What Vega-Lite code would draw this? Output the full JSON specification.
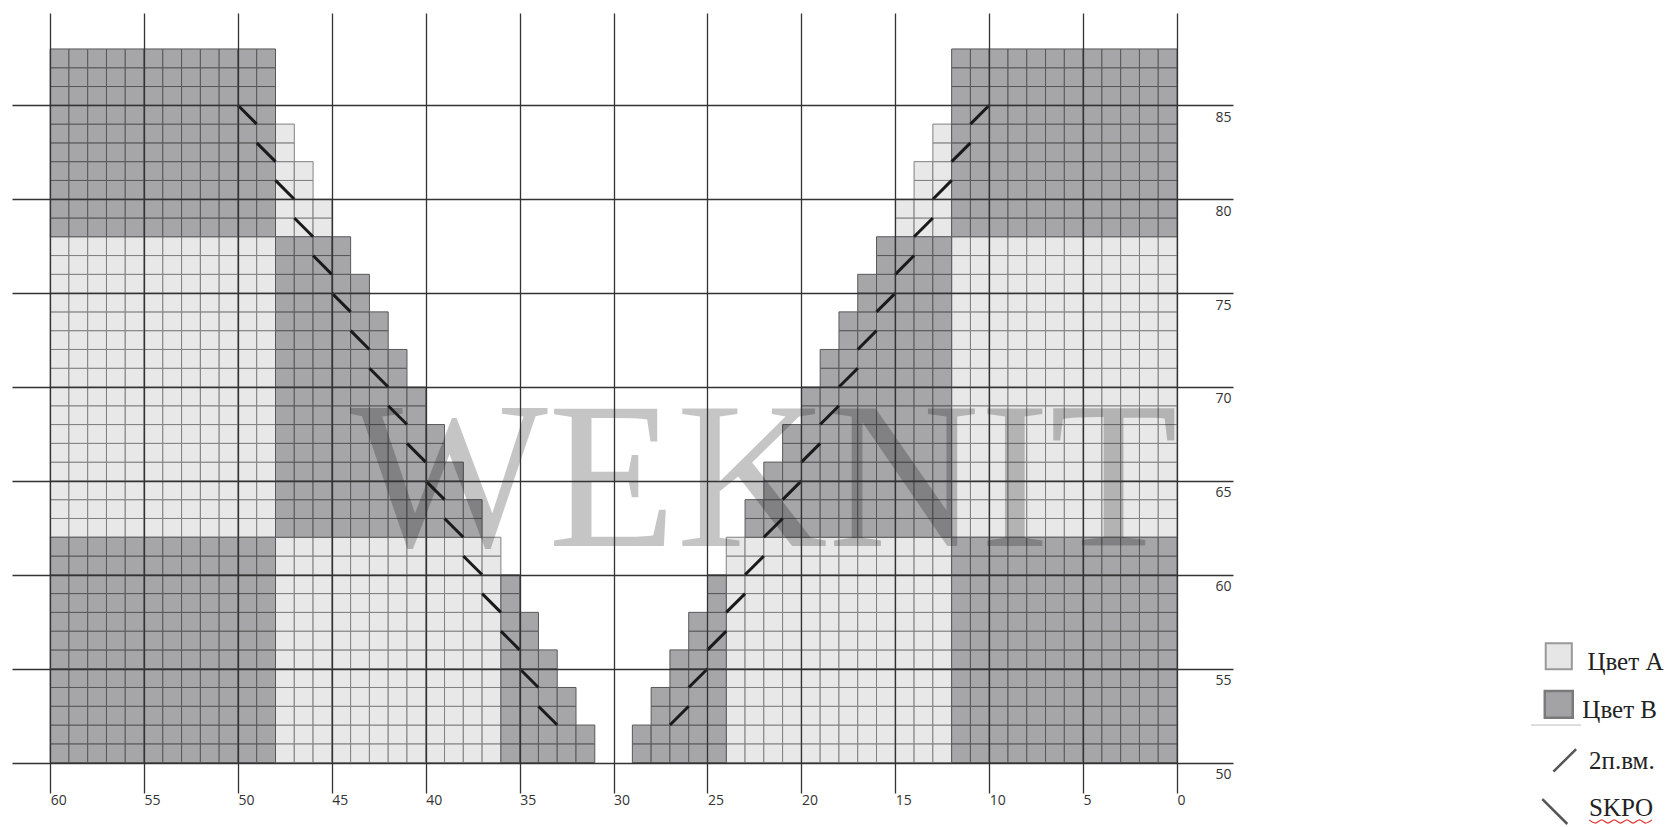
{"$schema":"https://vega.github.io/schema/vega-lite/v6.json","width":1221,"height":780,"autosize":"none","padding":{"left":12,"top":13,"right":437,"bottom":34},"background":"white","config":{"view":{"stroke":null}},
"datasets":{"cellsA":[
{"x":48,"y":51},{"x":47,"y":51},{"x":46,"y":51},{"x":45,"y":51},{"x":44,"y":51},{"x":43,"y":51},{"x":42,"y":51},{"x":41,"y":51},{"x":40,"y":51},{"x":39,"y":51},{"x":38,"y":51},{"x":37,"y":51},{"x":24,"y":51},{"x":23,"y":51},{"x":22,"y":51},{"x":21,"y":51},{"x":20,"y":51},{"x":19,"y":51},{"x":18,"y":51},{"x":17,"y":51},{"x":16,"y":51},{"x":15,"y":51},{"x":14,"y":51},{"x":13,"y":51},
{"x":48,"y":52},{"x":47,"y":52},{"x":46,"y":52},{"x":45,"y":52},{"x":44,"y":52},{"x":43,"y":52},{"x":42,"y":52},{"x":41,"y":52},{"x":40,"y":52},{"x":39,"y":52},{"x":38,"y":52},{"x":37,"y":52},{"x":24,"y":52},{"x":23,"y":52},{"x":22,"y":52},{"x":21,"y":52},{"x":20,"y":52},{"x":19,"y":52},{"x":18,"y":52},{"x":17,"y":52},{"x":16,"y":52},{"x":15,"y":52},{"x":14,"y":52},{"x":13,"y":52},
{"x":48,"y":53},{"x":47,"y":53},{"x":46,"y":53},{"x":45,"y":53},{"x":44,"y":53},{"x":43,"y":53},{"x":42,"y":53},{"x":41,"y":53},{"x":40,"y":53},{"x":39,"y":53},{"x":38,"y":53},{"x":37,"y":53},{"x":24,"y":53},{"x":23,"y":53},{"x":22,"y":53},{"x":21,"y":53},{"x":20,"y":53},{"x":19,"y":53},{"x":18,"y":53},{"x":17,"y":53},{"x":16,"y":53},{"x":15,"y":53},{"x":14,"y":53},{"x":13,"y":53},
{"x":48,"y":54},{"x":47,"y":54},{"x":46,"y":54},{"x":45,"y":54},{"x":44,"y":54},{"x":43,"y":54},{"x":42,"y":54},{"x":41,"y":54},{"x":40,"y":54},{"x":39,"y":54},{"x":38,"y":54},{"x":37,"y":54},{"x":24,"y":54},{"x":23,"y":54},{"x":22,"y":54},{"x":21,"y":54},{"x":20,"y":54},{"x":19,"y":54},{"x":18,"y":54},{"x":17,"y":54},{"x":16,"y":54},{"x":15,"y":54},{"x":14,"y":54},{"x":13,"y":54},
{"x":48,"y":55},{"x":47,"y":55},{"x":46,"y":55},{"x":45,"y":55},{"x":44,"y":55},{"x":43,"y":55},{"x":42,"y":55},{"x":41,"y":55},{"x":40,"y":55},{"x":39,"y":55},{"x":38,"y":55},{"x":37,"y":55},{"x":24,"y":55},{"x":23,"y":55},{"x":22,"y":55},{"x":21,"y":55},{"x":20,"y":55},{"x":19,"y":55},{"x":18,"y":55},{"x":17,"y":55},{"x":16,"y":55},{"x":15,"y":55},{"x":14,"y":55},{"x":13,"y":55},
{"x":48,"y":56},{"x":47,"y":56},{"x":46,"y":56},{"x":45,"y":56},{"x":44,"y":56},{"x":43,"y":56},{"x":42,"y":56},{"x":41,"y":56},{"x":40,"y":56},{"x":39,"y":56},{"x":38,"y":56},{"x":37,"y":56},{"x":24,"y":56},{"x":23,"y":56},{"x":22,"y":56},{"x":21,"y":56},{"x":20,"y":56},{"x":19,"y":56},{"x":18,"y":56},{"x":17,"y":56},{"x":16,"y":56},{"x":15,"y":56},{"x":14,"y":56},{"x":13,"y":56},
{"x":48,"y":57},{"x":47,"y":57},{"x":46,"y":57},{"x":45,"y":57},{"x":44,"y":57},{"x":43,"y":57},{"x":42,"y":57},{"x":41,"y":57},{"x":40,"y":57},{"x":39,"y":57},{"x":38,"y":57},{"x":37,"y":57},{"x":24,"y":57},{"x":23,"y":57},{"x":22,"y":57},{"x":21,"y":57},{"x":20,"y":57},{"x":19,"y":57},{"x":18,"y":57},{"x":17,"y":57},{"x":16,"y":57},{"x":15,"y":57},{"x":14,"y":57},{"x":13,"y":57},
{"x":48,"y":58},{"x":47,"y":58},{"x":46,"y":58},{"x":45,"y":58},{"x":44,"y":58},{"x":43,"y":58},{"x":42,"y":58},{"x":41,"y":58},{"x":40,"y":58},{"x":39,"y":58},{"x":38,"y":58},{"x":37,"y":58},{"x":24,"y":58},{"x":23,"y":58},{"x":22,"y":58},{"x":21,"y":58},{"x":20,"y":58},{"x":19,"y":58},{"x":18,"y":58},{"x":17,"y":58},{"x":16,"y":58},{"x":15,"y":58},{"x":14,"y":58},{"x":13,"y":58},
{"x":48,"y":59},{"x":47,"y":59},{"x":46,"y":59},{"x":45,"y":59},{"x":44,"y":59},{"x":43,"y":59},{"x":42,"y":59},{"x":41,"y":59},{"x":40,"y":59},{"x":39,"y":59},{"x":38,"y":59},{"x":37,"y":59},{"x":24,"y":59},{"x":23,"y":59},{"x":22,"y":59},{"x":21,"y":59},{"x":20,"y":59},{"x":19,"y":59},{"x":18,"y":59},{"x":17,"y":59},{"x":16,"y":59},{"x":15,"y":59},{"x":14,"y":59},{"x":13,"y":59},
{"x":48,"y":60},{"x":47,"y":60},{"x":46,"y":60},{"x":45,"y":60},{"x":44,"y":60},{"x":43,"y":60},{"x":42,"y":60},{"x":41,"y":60},{"x":40,"y":60},{"x":39,"y":60},{"x":38,"y":60},{"x":37,"y":60},{"x":24,"y":60},{"x":23,"y":60},{"x":22,"y":60},{"x":21,"y":60},{"x":20,"y":60},{"x":19,"y":60},{"x":18,"y":60},{"x":17,"y":60},{"x":16,"y":60},{"x":15,"y":60},{"x":14,"y":60},{"x":13,"y":60},
{"x":48,"y":61},{"x":47,"y":61},{"x":46,"y":61},{"x":45,"y":61},{"x":44,"y":61},{"x":43,"y":61},{"x":42,"y":61},{"x":41,"y":61},{"x":40,"y":61},{"x":39,"y":61},{"x":38,"y":61},{"x":37,"y":61},{"x":24,"y":61},{"x":23,"y":61},{"x":22,"y":61},{"x":21,"y":61},{"x":20,"y":61},{"x":19,"y":61},{"x":18,"y":61},{"x":17,"y":61},{"x":16,"y":61},{"x":15,"y":61},{"x":14,"y":61},{"x":13,"y":61},
{"x":48,"y":62},{"x":47,"y":62},{"x":46,"y":62},{"x":45,"y":62},{"x":44,"y":62},{"x":43,"y":62},{"x":42,"y":62},{"x":41,"y":62},{"x":40,"y":62},{"x":39,"y":62},{"x":38,"y":62},{"x":37,"y":62},{"x":24,"y":62},{"x":23,"y":62},{"x":22,"y":62},{"x":21,"y":62},{"x":20,"y":62},{"x":19,"y":62},{"x":18,"y":62},{"x":17,"y":62},{"x":16,"y":62},{"x":15,"y":62},{"x":14,"y":62},{"x":13,"y":62},
{"x":60,"y":63},{"x":59,"y":63},{"x":58,"y":63},{"x":57,"y":63},{"x":56,"y":63},{"x":55,"y":63},{"x":54,"y":63},{"x":53,"y":63},{"x":52,"y":63},{"x":51,"y":63},{"x":50,"y":63},{"x":49,"y":63},{"x":12,"y":63},{"x":11,"y":63},{"x":10,"y":63},{"x":9,"y":63},{"x":8,"y":63},{"x":7,"y":63},{"x":6,"y":63},{"x":5,"y":63},{"x":4,"y":63},{"x":3,"y":63},{"x":2,"y":63},{"x":1,"y":63},
{"x":60,"y":64},{"x":59,"y":64},{"x":58,"y":64},{"x":57,"y":64},{"x":56,"y":64},{"x":55,"y":64},{"x":54,"y":64},{"x":53,"y":64},{"x":52,"y":64},{"x":51,"y":64},{"x":50,"y":64},{"x":49,"y":64},{"x":12,"y":64},{"x":11,"y":64},{"x":10,"y":64},{"x":9,"y":64},{"x":8,"y":64},{"x":7,"y":64},{"x":6,"y":64},{"x":5,"y":64},{"x":4,"y":64},{"x":3,"y":64},{"x":2,"y":64},{"x":1,"y":64},
{"x":60,"y":65},{"x":59,"y":65},{"x":58,"y":65},{"x":57,"y":65},{"x":56,"y":65},{"x":55,"y":65},{"x":54,"y":65},{"x":53,"y":65},{"x":52,"y":65},{"x":51,"y":65},{"x":50,"y":65},{"x":49,"y":65},{"x":12,"y":65},{"x":11,"y":65},{"x":10,"y":65},{"x":9,"y":65},{"x":8,"y":65},{"x":7,"y":65},{"x":6,"y":65},{"x":5,"y":65},{"x":4,"y":65},{"x":3,"y":65},{"x":2,"y":65},{"x":1,"y":65},
{"x":60,"y":66},{"x":59,"y":66},{"x":58,"y":66},{"x":57,"y":66},{"x":56,"y":66},{"x":55,"y":66},{"x":54,"y":66},{"x":53,"y":66},{"x":52,"y":66},{"x":51,"y":66},{"x":50,"y":66},{"x":49,"y":66},{"x":12,"y":66},{"x":11,"y":66},{"x":10,"y":66},{"x":9,"y":66},{"x":8,"y":66},{"x":7,"y":66},{"x":6,"y":66},{"x":5,"y":66},{"x":4,"y":66},{"x":3,"y":66},{"x":2,"y":66},{"x":1,"y":66},
{"x":60,"y":67},{"x":59,"y":67},{"x":58,"y":67},{"x":57,"y":67},{"x":56,"y":67},{"x":55,"y":67},{"x":54,"y":67},{"x":53,"y":67},{"x":52,"y":67},{"x":51,"y":67},{"x":50,"y":67},{"x":49,"y":67},{"x":12,"y":67},{"x":11,"y":67},{"x":10,"y":67},{"x":9,"y":67},{"x":8,"y":67},{"x":7,"y":67},{"x":6,"y":67},{"x":5,"y":67},{"x":4,"y":67},{"x":3,"y":67},{"x":2,"y":67},{"x":1,"y":67},
{"x":60,"y":68},{"x":59,"y":68},{"x":58,"y":68},{"x":57,"y":68},{"x":56,"y":68},{"x":55,"y":68},{"x":54,"y":68},{"x":53,"y":68},{"x":52,"y":68},{"x":51,"y":68},{"x":50,"y":68},{"x":49,"y":68},{"x":12,"y":68},{"x":11,"y":68},{"x":10,"y":68},{"x":9,"y":68},{"x":8,"y":68},{"x":7,"y":68},{"x":6,"y":68},{"x":5,"y":68},{"x":4,"y":68},{"x":3,"y":68},{"x":2,"y":68},{"x":1,"y":68},
{"x":60,"y":69},{"x":59,"y":69},{"x":58,"y":69},{"x":57,"y":69},{"x":56,"y":69},{"x":55,"y":69},{"x":54,"y":69},{"x":53,"y":69},{"x":52,"y":69},{"x":51,"y":69},{"x":50,"y":69},{"x":49,"y":69},{"x":12,"y":69},{"x":11,"y":69},{"x":10,"y":69},{"x":9,"y":69},{"x":8,"y":69},{"x":7,"y":69},{"x":6,"y":69},{"x":5,"y":69},{"x":4,"y":69},{"x":3,"y":69},{"x":2,"y":69},{"x":1,"y":69},
{"x":60,"y":70},{"x":59,"y":70},{"x":58,"y":70},{"x":57,"y":70},{"x":56,"y":70},{"x":55,"y":70},{"x":54,"y":70},{"x":53,"y":70},{"x":52,"y":70},{"x":51,"y":70},{"x":50,"y":70},{"x":49,"y":70},{"x":12,"y":70},{"x":11,"y":70},{"x":10,"y":70},{"x":9,"y":70},{"x":8,"y":70},{"x":7,"y":70},{"x":6,"y":70},{"x":5,"y":70},{"x":4,"y":70},{"x":3,"y":70},{"x":2,"y":70},{"x":1,"y":70},
{"x":60,"y":71},{"x":59,"y":71},{"x":58,"y":71},{"x":57,"y":71},{"x":56,"y":71},{"x":55,"y":71},{"x":54,"y":71},{"x":53,"y":71},{"x":52,"y":71},{"x":51,"y":71},{"x":50,"y":71},{"x":49,"y":71},{"x":12,"y":71},{"x":11,"y":71},{"x":10,"y":71},{"x":9,"y":71},{"x":8,"y":71},{"x":7,"y":71},{"x":6,"y":71},{"x":5,"y":71},{"x":4,"y":71},{"x":3,"y":71},{"x":2,"y":71},{"x":1,"y":71},
{"x":60,"y":72},{"x":59,"y":72},{"x":58,"y":72},{"x":57,"y":72},{"x":56,"y":72},{"x":55,"y":72},{"x":54,"y":72},{"x":53,"y":72},{"x":52,"y":72},{"x":51,"y":72},{"x":50,"y":72},{"x":49,"y":72},{"x":12,"y":72},{"x":11,"y":72},{"x":10,"y":72},{"x":9,"y":72},{"x":8,"y":72},{"x":7,"y":72},{"x":6,"y":72},{"x":5,"y":72},{"x":4,"y":72},{"x":3,"y":72},{"x":2,"y":72},{"x":1,"y":72},
{"x":60,"y":73},{"x":59,"y":73},{"x":58,"y":73},{"x":57,"y":73},{"x":56,"y":73},{"x":55,"y":73},{"x":54,"y":73},{"x":53,"y":73},{"x":52,"y":73},{"x":51,"y":73},{"x":50,"y":73},{"x":49,"y":73},{"x":12,"y":73},{"x":11,"y":73},{"x":10,"y":73},{"x":9,"y":73},{"x":8,"y":73},{"x":7,"y":73},{"x":6,"y":73},{"x":5,"y":73},{"x":4,"y":73},{"x":3,"y":73},{"x":2,"y":73},{"x":1,"y":73},
{"x":60,"y":74},{"x":59,"y":74},{"x":58,"y":74},{"x":57,"y":74},{"x":56,"y":74},{"x":55,"y":74},{"x":54,"y":74},{"x":53,"y":74},{"x":52,"y":74},{"x":51,"y":74},{"x":50,"y":74},{"x":49,"y":74},{"x":12,"y":74},{"x":11,"y":74},{"x":10,"y":74},{"x":9,"y":74},{"x":8,"y":74},{"x":7,"y":74},{"x":6,"y":74},{"x":5,"y":74},{"x":4,"y":74},{"x":3,"y":74},{"x":2,"y":74},{"x":1,"y":74},
{"x":60,"y":75},{"x":59,"y":75},{"x":58,"y":75},{"x":57,"y":75},{"x":56,"y":75},{"x":55,"y":75},{"x":54,"y":75},{"x":53,"y":75},{"x":52,"y":75},{"x":51,"y":75},{"x":50,"y":75},{"x":49,"y":75},{"x":12,"y":75},{"x":11,"y":75},{"x":10,"y":75},{"x":9,"y":75},{"x":8,"y":75},{"x":7,"y":75},{"x":6,"y":75},{"x":5,"y":75},{"x":4,"y":75},{"x":3,"y":75},{"x":2,"y":75},{"x":1,"y":75},
{"x":60,"y":76},{"x":59,"y":76},{"x":58,"y":76},{"x":57,"y":76},{"x":56,"y":76},{"x":55,"y":76},{"x":54,"y":76},{"x":53,"y":76},{"x":52,"y":76},{"x":51,"y":76},{"x":50,"y":76},{"x":49,"y":76},{"x":12,"y":76},{"x":11,"y":76},{"x":10,"y":76},{"x":9,"y":76},{"x":8,"y":76},{"x":7,"y":76},{"x":6,"y":76},{"x":5,"y":76},{"x":4,"y":76},{"x":3,"y":76},{"x":2,"y":76},{"x":1,"y":76},
{"x":60,"y":77},{"x":59,"y":77},{"x":58,"y":77},{"x":57,"y":77},{"x":56,"y":77},{"x":55,"y":77},{"x":54,"y":77},{"x":53,"y":77},{"x":52,"y":77},{"x":51,"y":77},{"x":50,"y":77},{"x":49,"y":77},{"x":12,"y":77},{"x":11,"y":77},{"x":10,"y":77},{"x":9,"y":77},{"x":8,"y":77},{"x":7,"y":77},{"x":6,"y":77},{"x":5,"y":77},{"x":4,"y":77},{"x":3,"y":77},{"x":2,"y":77},{"x":1,"y":77},
{"x":60,"y":78},{"x":59,"y":78},{"x":58,"y":78},{"x":57,"y":78},{"x":56,"y":78},{"x":55,"y":78},{"x":54,"y":78},{"x":53,"y":78},{"x":52,"y":78},{"x":51,"y":78},{"x":50,"y":78},{"x":49,"y":78},{"x":12,"y":78},{"x":11,"y":78},{"x":10,"y":78},{"x":9,"y":78},{"x":8,"y":78},{"x":7,"y":78},{"x":6,"y":78},{"x":5,"y":78},{"x":4,"y":78},{"x":3,"y":78},{"x":2,"y":78},{"x":1,"y":78},
{"x":48,"y":79},{"x":47,"y":79},{"x":46,"y":79},{"x":15,"y":79},{"x":14,"y":79},{"x":13,"y":79},
{"x":48,"y":80},{"x":47,"y":80},{"x":46,"y":80},{"x":15,"y":80},{"x":14,"y":80},{"x":13,"y":80},
{"x":48,"y":81},{"x":47,"y":81},{"x":14,"y":81},{"x":13,"y":81},
{"x":48,"y":82},{"x":47,"y":82},{"x":14,"y":82},{"x":13,"y":82},
{"x":48,"y":83},{"x":13,"y":83},
{"x":48,"y":84},{"x":13,"y":84}
],"cellsB":[
{"x":60,"y":51},{"x":59,"y":51},{"x":58,"y":51},{"x":57,"y":51},{"x":56,"y":51},{"x":55,"y":51},{"x":54,"y":51},{"x":53,"y":51},{"x":52,"y":51},{"x":51,"y":51},{"x":50,"y":51},{"x":49,"y":51},{"x":36,"y":51},{"x":35,"y":51},{"x":34,"y":51},{"x":33,"y":51},{"x":32,"y":51},{"x":29,"y":51},{"x":28,"y":51},{"x":27,"y":51},{"x":26,"y":51},{"x":25,"y":51},{"x":12,"y":51},{"x":11,"y":51},{"x":10,"y":51},{"x":9,"y":51},{"x":8,"y":51},{"x":7,"y":51},{"x":6,"y":51},{"x":5,"y":51},{"x":4,"y":51},{"x":3,"y":51},{"x":2,"y":51},{"x":1,"y":51},
{"x":60,"y":52},{"x":59,"y":52},{"x":58,"y":52},{"x":57,"y":52},{"x":56,"y":52},{"x":55,"y":52},{"x":54,"y":52},{"x":53,"y":52},{"x":52,"y":52},{"x":51,"y":52},{"x":50,"y":52},{"x":49,"y":52},{"x":36,"y":52},{"x":35,"y":52},{"x":34,"y":52},{"x":33,"y":52},{"x":32,"y":52},{"x":29,"y":52},{"x":28,"y":52},{"x":27,"y":52},{"x":26,"y":52},{"x":25,"y":52},{"x":12,"y":52},{"x":11,"y":52},{"x":10,"y":52},{"x":9,"y":52},{"x":8,"y":52},{"x":7,"y":52},{"x":6,"y":52},{"x":5,"y":52},{"x":4,"y":52},{"x":3,"y":52},{"x":2,"y":52},{"x":1,"y":52},
{"x":60,"y":53},{"x":59,"y":53},{"x":58,"y":53},{"x":57,"y":53},{"x":56,"y":53},{"x":55,"y":53},{"x":54,"y":53},{"x":53,"y":53},{"x":52,"y":53},{"x":51,"y":53},{"x":50,"y":53},{"x":49,"y":53},{"x":36,"y":53},{"x":35,"y":53},{"x":34,"y":53},{"x":33,"y":53},{"x":28,"y":53},{"x":27,"y":53},{"x":26,"y":53},{"x":25,"y":53},{"x":12,"y":53},{"x":11,"y":53},{"x":10,"y":53},{"x":9,"y":53},{"x":8,"y":53},{"x":7,"y":53},{"x":6,"y":53},{"x":5,"y":53},{"x":4,"y":53},{"x":3,"y":53},{"x":2,"y":53},{"x":1,"y":53},
{"x":60,"y":54},{"x":59,"y":54},{"x":58,"y":54},{"x":57,"y":54},{"x":56,"y":54},{"x":55,"y":54},{"x":54,"y":54},{"x":53,"y":54},{"x":52,"y":54},{"x":51,"y":54},{"x":50,"y":54},{"x":49,"y":54},{"x":36,"y":54},{"x":35,"y":54},{"x":34,"y":54},{"x":33,"y":54},{"x":28,"y":54},{"x":27,"y":54},{"x":26,"y":54},{"x":25,"y":54},{"x":12,"y":54},{"x":11,"y":54},{"x":10,"y":54},{"x":9,"y":54},{"x":8,"y":54},{"x":7,"y":54},{"x":6,"y":54},{"x":5,"y":54},{"x":4,"y":54},{"x":3,"y":54},{"x":2,"y":54},{"x":1,"y":54},
{"x":60,"y":55},{"x":59,"y":55},{"x":58,"y":55},{"x":57,"y":55},{"x":56,"y":55},{"x":55,"y":55},{"x":54,"y":55},{"x":53,"y":55},{"x":52,"y":55},{"x":51,"y":55},{"x":50,"y":55},{"x":49,"y":55},{"x":36,"y":55},{"x":35,"y":55},{"x":34,"y":55},{"x":27,"y":55},{"x":26,"y":55},{"x":25,"y":55},{"x":12,"y":55},{"x":11,"y":55},{"x":10,"y":55},{"x":9,"y":55},{"x":8,"y":55},{"x":7,"y":55},{"x":6,"y":55},{"x":5,"y":55},{"x":4,"y":55},{"x":3,"y":55},{"x":2,"y":55},{"x":1,"y":55},
{"x":60,"y":56},{"x":59,"y":56},{"x":58,"y":56},{"x":57,"y":56},{"x":56,"y":56},{"x":55,"y":56},{"x":54,"y":56},{"x":53,"y":56},{"x":52,"y":56},{"x":51,"y":56},{"x":50,"y":56},{"x":49,"y":56},{"x":36,"y":56},{"x":35,"y":56},{"x":34,"y":56},{"x":27,"y":56},{"x":26,"y":56},{"x":25,"y":56},{"x":12,"y":56},{"x":11,"y":56},{"x":10,"y":56},{"x":9,"y":56},{"x":8,"y":56},{"x":7,"y":56},{"x":6,"y":56},{"x":5,"y":56},{"x":4,"y":56},{"x":3,"y":56},{"x":2,"y":56},{"x":1,"y":56},
{"x":60,"y":57},{"x":59,"y":57},{"x":58,"y":57},{"x":57,"y":57},{"x":56,"y":57},{"x":55,"y":57},{"x":54,"y":57},{"x":53,"y":57},{"x":52,"y":57},{"x":51,"y":57},{"x":50,"y":57},{"x":49,"y":57},{"x":36,"y":57},{"x":35,"y":57},{"x":26,"y":57},{"x":25,"y":57},{"x":12,"y":57},{"x":11,"y":57},{"x":10,"y":57},{"x":9,"y":57},{"x":8,"y":57},{"x":7,"y":57},{"x":6,"y":57},{"x":5,"y":57},{"x":4,"y":57},{"x":3,"y":57},{"x":2,"y":57},{"x":1,"y":57},
{"x":60,"y":58},{"x":59,"y":58},{"x":58,"y":58},{"x":57,"y":58},{"x":56,"y":58},{"x":55,"y":58},{"x":54,"y":58},{"x":53,"y":58},{"x":52,"y":58},{"x":51,"y":58},{"x":50,"y":58},{"x":49,"y":58},{"x":36,"y":58},{"x":35,"y":58},{"x":26,"y":58},{"x":25,"y":58},{"x":12,"y":58},{"x":11,"y":58},{"x":10,"y":58},{"x":9,"y":58},{"x":8,"y":58},{"x":7,"y":58},{"x":6,"y":58},{"x":5,"y":58},{"x":4,"y":58},{"x":3,"y":58},{"x":2,"y":58},{"x":1,"y":58},
{"x":60,"y":59},{"x":59,"y":59},{"x":58,"y":59},{"x":57,"y":59},{"x":56,"y":59},{"x":55,"y":59},{"x":54,"y":59},{"x":53,"y":59},{"x":52,"y":59},{"x":51,"y":59},{"x":50,"y":59},{"x":49,"y":59},{"x":36,"y":59},{"x":25,"y":59},{"x":12,"y":59},{"x":11,"y":59},{"x":10,"y":59},{"x":9,"y":59},{"x":8,"y":59},{"x":7,"y":59},{"x":6,"y":59},{"x":5,"y":59},{"x":4,"y":59},{"x":3,"y":59},{"x":2,"y":59},{"x":1,"y":59},
{"x":60,"y":60},{"x":59,"y":60},{"x":58,"y":60},{"x":57,"y":60},{"x":56,"y":60},{"x":55,"y":60},{"x":54,"y":60},{"x":53,"y":60},{"x":52,"y":60},{"x":51,"y":60},{"x":50,"y":60},{"x":49,"y":60},{"x":36,"y":60},{"x":25,"y":60},{"x":12,"y":60},{"x":11,"y":60},{"x":10,"y":60},{"x":9,"y":60},{"x":8,"y":60},{"x":7,"y":60},{"x":6,"y":60},{"x":5,"y":60},{"x":4,"y":60},{"x":3,"y":60},{"x":2,"y":60},{"x":1,"y":60},
{"x":60,"y":61},{"x":59,"y":61},{"x":58,"y":61},{"x":57,"y":61},{"x":56,"y":61},{"x":55,"y":61},{"x":54,"y":61},{"x":53,"y":61},{"x":52,"y":61},{"x":51,"y":61},{"x":50,"y":61},{"x":49,"y":61},{"x":12,"y":61},{"x":11,"y":61},{"x":10,"y":61},{"x":9,"y":61},{"x":8,"y":61},{"x":7,"y":61},{"x":6,"y":61},{"x":5,"y":61},{"x":4,"y":61},{"x":3,"y":61},{"x":2,"y":61},{"x":1,"y":61},
{"x":60,"y":62},{"x":59,"y":62},{"x":58,"y":62},{"x":57,"y":62},{"x":56,"y":62},{"x":55,"y":62},{"x":54,"y":62},{"x":53,"y":62},{"x":52,"y":62},{"x":51,"y":62},{"x":50,"y":62},{"x":49,"y":62},{"x":12,"y":62},{"x":11,"y":62},{"x":10,"y":62},{"x":9,"y":62},{"x":8,"y":62},{"x":7,"y":62},{"x":6,"y":62},{"x":5,"y":62},{"x":4,"y":62},{"x":3,"y":62},{"x":2,"y":62},{"x":1,"y":62},
{"x":48,"y":63},{"x":47,"y":63},{"x":46,"y":63},{"x":45,"y":63},{"x":44,"y":63},{"x":43,"y":63},{"x":42,"y":63},{"x":41,"y":63},{"x":40,"y":63},{"x":39,"y":63},{"x":38,"y":63},{"x":23,"y":63},{"x":22,"y":63},{"x":21,"y":63},{"x":20,"y":63},{"x":19,"y":63},{"x":18,"y":63},{"x":17,"y":63},{"x":16,"y":63},{"x":15,"y":63},{"x":14,"y":63},{"x":13,"y":63},
{"x":48,"y":64},{"x":47,"y":64},{"x":46,"y":64},{"x":45,"y":64},{"x":44,"y":64},{"x":43,"y":64},{"x":42,"y":64},{"x":41,"y":64},{"x":40,"y":64},{"x":39,"y":64},{"x":38,"y":64},{"x":23,"y":64},{"x":22,"y":64},{"x":21,"y":64},{"x":20,"y":64},{"x":19,"y":64},{"x":18,"y":64},{"x":17,"y":64},{"x":16,"y":64},{"x":15,"y":64},{"x":14,"y":64},{"x":13,"y":64},
{"x":48,"y":65},{"x":47,"y":65},{"x":46,"y":65},{"x":45,"y":65},{"x":44,"y":65},{"x":43,"y":65},{"x":42,"y":65},{"x":41,"y":65},{"x":40,"y":65},{"x":39,"y":65},{"x":22,"y":65},{"x":21,"y":65},{"x":20,"y":65},{"x":19,"y":65},{"x":18,"y":65},{"x":17,"y":65},{"x":16,"y":65},{"x":15,"y":65},{"x":14,"y":65},{"x":13,"y":65},
{"x":48,"y":66},{"x":47,"y":66},{"x":46,"y":66},{"x":45,"y":66},{"x":44,"y":66},{"x":43,"y":66},{"x":42,"y":66},{"x":41,"y":66},{"x":40,"y":66},{"x":39,"y":66},{"x":22,"y":66},{"x":21,"y":66},{"x":20,"y":66},{"x":19,"y":66},{"x":18,"y":66},{"x":17,"y":66},{"x":16,"y":66},{"x":15,"y":66},{"x":14,"y":66},{"x":13,"y":66},
{"x":48,"y":67},{"x":47,"y":67},{"x":46,"y":67},{"x":45,"y":67},{"x":44,"y":67},{"x":43,"y":67},{"x":42,"y":67},{"x":41,"y":67},{"x":40,"y":67},{"x":21,"y":67},{"x":20,"y":67},{"x":19,"y":67},{"x":18,"y":67},{"x":17,"y":67},{"x":16,"y":67},{"x":15,"y":67},{"x":14,"y":67},{"x":13,"y":67},
{"x":48,"y":68},{"x":47,"y":68},{"x":46,"y":68},{"x":45,"y":68},{"x":44,"y":68},{"x":43,"y":68},{"x":42,"y":68},{"x":41,"y":68},{"x":40,"y":68},{"x":21,"y":68},{"x":20,"y":68},{"x":19,"y":68},{"x":18,"y":68},{"x":17,"y":68},{"x":16,"y":68},{"x":15,"y":68},{"x":14,"y":68},{"x":13,"y":68},
{"x":48,"y":69},{"x":47,"y":69},{"x":46,"y":69},{"x":45,"y":69},{"x":44,"y":69},{"x":43,"y":69},{"x":42,"y":69},{"x":41,"y":69},{"x":20,"y":69},{"x":19,"y":69},{"x":18,"y":69},{"x":17,"y":69},{"x":16,"y":69},{"x":15,"y":69},{"x":14,"y":69},{"x":13,"y":69},
{"x":48,"y":70},{"x":47,"y":70},{"x":46,"y":70},{"x":45,"y":70},{"x":44,"y":70},{"x":43,"y":70},{"x":42,"y":70},{"x":41,"y":70},{"x":20,"y":70},{"x":19,"y":70},{"x":18,"y":70},{"x":17,"y":70},{"x":16,"y":70},{"x":15,"y":70},{"x":14,"y":70},{"x":13,"y":70},
{"x":48,"y":71},{"x":47,"y":71},{"x":46,"y":71},{"x":45,"y":71},{"x":44,"y":71},{"x":43,"y":71},{"x":42,"y":71},{"x":19,"y":71},{"x":18,"y":71},{"x":17,"y":71},{"x":16,"y":71},{"x":15,"y":71},{"x":14,"y":71},{"x":13,"y":71},
{"x":48,"y":72},{"x":47,"y":72},{"x":46,"y":72},{"x":45,"y":72},{"x":44,"y":72},{"x":43,"y":72},{"x":42,"y":72},{"x":19,"y":72},{"x":18,"y":72},{"x":17,"y":72},{"x":16,"y":72},{"x":15,"y":72},{"x":14,"y":72},{"x":13,"y":72},
{"x":48,"y":73},{"x":47,"y":73},{"x":46,"y":73},{"x":45,"y":73},{"x":44,"y":73},{"x":43,"y":73},{"x":18,"y":73},{"x":17,"y":73},{"x":16,"y":73},{"x":15,"y":73},{"x":14,"y":73},{"x":13,"y":73},
{"x":48,"y":74},{"x":47,"y":74},{"x":46,"y":74},{"x":45,"y":74},{"x":44,"y":74},{"x":43,"y":74},{"x":18,"y":74},{"x":17,"y":74},{"x":16,"y":74},{"x":15,"y":74},{"x":14,"y":74},{"x":13,"y":74},
{"x":48,"y":75},{"x":47,"y":75},{"x":46,"y":75},{"x":45,"y":75},{"x":44,"y":75},{"x":17,"y":75},{"x":16,"y":75},{"x":15,"y":75},{"x":14,"y":75},{"x":13,"y":75},
{"x":48,"y":76},{"x":47,"y":76},{"x":46,"y":76},{"x":45,"y":76},{"x":44,"y":76},{"x":17,"y":76},{"x":16,"y":76},{"x":15,"y":76},{"x":14,"y":76},{"x":13,"y":76},
{"x":48,"y":77},{"x":47,"y":77},{"x":46,"y":77},{"x":45,"y":77},{"x":16,"y":77},{"x":15,"y":77},{"x":14,"y":77},{"x":13,"y":77},
{"x":48,"y":78},{"x":47,"y":78},{"x":46,"y":78},{"x":45,"y":78},{"x":16,"y":78},{"x":15,"y":78},{"x":14,"y":78},{"x":13,"y":78},
{"x":60,"y":79},{"x":59,"y":79},{"x":58,"y":79},{"x":57,"y":79},{"x":56,"y":79},{"x":55,"y":79},{"x":54,"y":79},{"x":53,"y":79},{"x":52,"y":79},{"x":51,"y":79},{"x":50,"y":79},{"x":49,"y":79},{"x":12,"y":79},{"x":11,"y":79},{"x":10,"y":79},{"x":9,"y":79},{"x":8,"y":79},{"x":7,"y":79},{"x":6,"y":79},{"x":5,"y":79},{"x":4,"y":79},{"x":3,"y":79},{"x":2,"y":79},{"x":1,"y":79},
{"x":60,"y":80},{"x":59,"y":80},{"x":58,"y":80},{"x":57,"y":80},{"x":56,"y":80},{"x":55,"y":80},{"x":54,"y":80},{"x":53,"y":80},{"x":52,"y":80},{"x":51,"y":80},{"x":50,"y":80},{"x":49,"y":80},{"x":12,"y":80},{"x":11,"y":80},{"x":10,"y":80},{"x":9,"y":80},{"x":8,"y":80},{"x":7,"y":80},{"x":6,"y":80},{"x":5,"y":80},{"x":4,"y":80},{"x":3,"y":80},{"x":2,"y":80},{"x":1,"y":80},
{"x":60,"y":81},{"x":59,"y":81},{"x":58,"y":81},{"x":57,"y":81},{"x":56,"y":81},{"x":55,"y":81},{"x":54,"y":81},{"x":53,"y":81},{"x":52,"y":81},{"x":51,"y":81},{"x":50,"y":81},{"x":49,"y":81},{"x":12,"y":81},{"x":11,"y":81},{"x":10,"y":81},{"x":9,"y":81},{"x":8,"y":81},{"x":7,"y":81},{"x":6,"y":81},{"x":5,"y":81},{"x":4,"y":81},{"x":3,"y":81},{"x":2,"y":81},{"x":1,"y":81},
{"x":60,"y":82},{"x":59,"y":82},{"x":58,"y":82},{"x":57,"y":82},{"x":56,"y":82},{"x":55,"y":82},{"x":54,"y":82},{"x":53,"y":82},{"x":52,"y":82},{"x":51,"y":82},{"x":50,"y":82},{"x":49,"y":82},{"x":12,"y":82},{"x":11,"y":82},{"x":10,"y":82},{"x":9,"y":82},{"x":8,"y":82},{"x":7,"y":82},{"x":6,"y":82},{"x":5,"y":82},{"x":4,"y":82},{"x":3,"y":82},{"x":2,"y":82},{"x":1,"y":82},
{"x":60,"y":83},{"x":59,"y":83},{"x":58,"y":83},{"x":57,"y":83},{"x":56,"y":83},{"x":55,"y":83},{"x":54,"y":83},{"x":53,"y":83},{"x":52,"y":83},{"x":51,"y":83},{"x":50,"y":83},{"x":49,"y":83},{"x":12,"y":83},{"x":11,"y":83},{"x":10,"y":83},{"x":9,"y":83},{"x":8,"y":83},{"x":7,"y":83},{"x":6,"y":83},{"x":5,"y":83},{"x":4,"y":83},{"x":3,"y":83},{"x":2,"y":83},{"x":1,"y":83},
{"x":60,"y":84},{"x":59,"y":84},{"x":58,"y":84},{"x":57,"y":84},{"x":56,"y":84},{"x":55,"y":84},{"x":54,"y":84},{"x":53,"y":84},{"x":52,"y":84},{"x":51,"y":84},{"x":50,"y":84},{"x":49,"y":84},{"x":12,"y":84},{"x":11,"y":84},{"x":10,"y":84},{"x":9,"y":84},{"x":8,"y":84},{"x":7,"y":84},{"x":6,"y":84},{"x":5,"y":84},{"x":4,"y":84},{"x":3,"y":84},{"x":2,"y":84},{"x":1,"y":84},
{"x":60,"y":85},{"x":59,"y":85},{"x":58,"y":85},{"x":57,"y":85},{"x":56,"y":85},{"x":55,"y":85},{"x":54,"y":85},{"x":53,"y":85},{"x":52,"y":85},{"x":51,"y":85},{"x":50,"y":85},{"x":49,"y":85},{"x":12,"y":85},{"x":11,"y":85},{"x":10,"y":85},{"x":9,"y":85},{"x":8,"y":85},{"x":7,"y":85},{"x":6,"y":85},{"x":5,"y":85},{"x":4,"y":85},{"x":3,"y":85},{"x":2,"y":85},{"x":1,"y":85},
{"x":60,"y":86},{"x":59,"y":86},{"x":58,"y":86},{"x":57,"y":86},{"x":56,"y":86},{"x":55,"y":86},{"x":54,"y":86},{"x":53,"y":86},{"x":52,"y":86},{"x":51,"y":86},{"x":50,"y":86},{"x":49,"y":86},{"x":12,"y":86},{"x":11,"y":86},{"x":10,"y":86},{"x":9,"y":86},{"x":8,"y":86},{"x":7,"y":86},{"x":6,"y":86},{"x":5,"y":86},{"x":4,"y":86},{"x":3,"y":86},{"x":2,"y":86},{"x":1,"y":86},
{"x":60,"y":87},{"x":59,"y":87},{"x":58,"y":87},{"x":57,"y":87},{"x":56,"y":87},{"x":55,"y":87},{"x":54,"y":87},{"x":53,"y":87},{"x":52,"y":87},{"x":51,"y":87},{"x":50,"y":87},{"x":49,"y":87},{"x":12,"y":87},{"x":11,"y":87},{"x":10,"y":87},{"x":9,"y":87},{"x":8,"y":87},{"x":7,"y":87},{"x":6,"y":87},{"x":5,"y":87},{"x":4,"y":87},{"x":3,"y":87},{"x":2,"y":87},{"x":1,"y":87},
{"x":60,"y":88},{"x":59,"y":88},{"x":58,"y":88},{"x":57,"y":88},{"x":56,"y":88},{"x":55,"y":88},{"x":54,"y":88},{"x":53,"y":88},{"x":52,"y":88},{"x":51,"y":88},{"x":50,"y":88},{"x":49,"y":88},{"x":12,"y":88},{"x":11,"y":88},{"x":10,"y":88},{"x":9,"y":88},{"x":8,"y":88},{"x":7,"y":88},{"x":6,"y":88},{"x":5,"y":88},{"x":4,"y":88},{"x":3,"y":88},{"x":2,"y":88},{"x":1,"y":88}
],
"decreases":[{"x":50,"y":85,"x2":49,"y2":84},{"x":49,"y":83,"x2":48,"y2":82},{"x":48,"y":81,"x2":47,"y2":80},{"x":47,"y":79,"x2":46,"y2":78},{"x":46,"y":77,"x2":45,"y2":76},{"x":45,"y":75,"x2":44,"y2":74},{"x":44,"y":73,"x2":43,"y2":72},{"x":43,"y":71,"x2":42,"y2":70},{"x":42,"y":69,"x2":41,"y2":68},{"x":41,"y":67,"x2":40,"y2":66},{"x":40,"y":65,"x2":39,"y2":64},{"x":39,"y":63,"x2":38,"y2":62},{"x":38,"y":61,"x2":37,"y2":60},{"x":37,"y":59,"x2":36,"y2":58},{"x":36,"y":57,"x2":35,"y2":56},{"x":35,"y":55,"x2":34,"y2":54},{"x":34,"y":53,"x2":33,"y2":52},
{"x":10,"y":85,"x2":11,"y2":84},{"x":11,"y":83,"x2":12,"y2":82},{"x":12,"y":81,"x2":13,"y2":80},{"x":13,"y":79,"x2":14,"y2":78},{"x":14,"y":77,"x2":15,"y2":76},{"x":15,"y":75,"x2":16,"y2":74},{"x":16,"y":73,"x2":17,"y2":72},{"x":17,"y":71,"x2":18,"y2":70},{"x":18,"y":69,"x2":19,"y2":68},{"x":19,"y":67,"x2":20,"y2":66},{"x":20,"y":65,"x2":21,"y2":64},{"x":21,"y":63,"x2":22,"y2":62},{"x":22,"y":61,"x2":23,"y2":60},{"x":23,"y":59,"x2":24,"y2":58},{"x":24,"y":57,"x2":25,"y2":56},{"x":25,"y":55,"x2":26,"y2":54},{"x":26,"y":53,"x2":27,"y2":52}]},
"data":{"name":"cellsA"},
"encoding":{"x":{"field":"x","type":"quantitative","title":null,"scale":{"domain":[62.03,-2.98],"nice":false,"zero":false},"axis":{"values":[0,5,10,15,20,25,30,35,40,45,50,55,60],"grid":true,"gridColor":"#333333","gridWidth":1.3,"ticks":false,"domain":false,"zindex":1,"labelAlign":"left","labelBaseline":"top","labelPadding":0,"labelFont":"Open Sans","labelFontSize":14,"labelColor":"#333333","labelBound":false,"labelFlush":false,"labelOverlap":false}},
"y":{"field":"y","type":"quantitative","title":null,"scale":{"domain":[48.381,89.915],"nice":false,"zero":false},"axis":{"orient":"right","values":[50,55,60,65,70,75,80,85],"grid":true,"gridColor":"#333333","gridWidth":1.3,"ticks":false,"domain":false,"zindex":1,"labelAlign":"right","labelBaseline":"middle","labelPadding":-2,"labelOffset":12,"labelFont":"Open Sans","labelFontSize":14,"labelColor":"#333333","labelBound":false,"labelFlush":false,"labelOverlap":false}}},
"layer":[
{"mark":{"type":"rect","width":18.78,"height":18.78,"xOffset":9.39,"yOffset":9.39,"fill":"#e8e8e8","stroke":"#808080","strokeWidth":1}},
{"data":{"name":"cellsB"},"mark":{"type":"rect","width":18.78,"height":18.78,"xOffset":9.39,"yOffset":9.39,"fill":"#a6a6a8","stroke":"#585858","strokeWidth":1}},
{"data":{"values":[{"x":22,"y":61.55,"t":"WEKNIT"}]},"mark":{"type":"text","font":"Liberation Serif","fontSize":210,"align":"center","baseline":"alphabetic","fill":"#111111","opacity":0.24},"encoding":{"text":{"field":"t"}}},
{"data":{"name":"decreases"},"mark":{"type":"rule","strokeWidth":3,"color":"#1a1a1a"},"encoding":{"x2":{"field":"x2"},"y2":{"field":"y2"}}},
{"data":{"values":[{"x":-19.63,"x2":-21.02,"y":56.35,"y2":54.97}]},"mark":{"type":"rect","fill":"#e6e6e6","stroke":"#999999","strokeWidth":2},"encoding":{"x2":{"field":"x2"},"y2":{"field":"y2"}}},
{"data":{"values":[{"x":-19.58,"x2":-21.07,"y":53.81,"y2":52.39}]},"mark":{"type":"rect","fill":"#a3a3a6","stroke":"#7a7a7a","strokeWidth":2.5},"encoding":{"x2":{"field":"x2"},"y2":{"field":"y2"}}},
{"data":{"values":[{"x":-18.85,"x2":-21.51,"y":52.0,"y2":52.0}]},"mark":{"type":"rule","strokeWidth":1,"color":"#bbbbbb"},"encoding":{"x2":{"field":"x2"},"y2":{"field":"y2"}}},
{"data":{"values":[{"x":-20.04,"y":49.52,"x2":-21.25,"y2":50.72},{"x":-19.45,"y":48.05,"x2":-20.78,"y2":46.73}]},"mark":{"type":"rule","strokeWidth":2.5,"color":"#555555"},"encoding":{"x2":{"field":"x2"},"y2":{"field":"y2"}}},
{"data":{"values":[{"x":-21.85,"y":55.36,"t":"Цвет A"},{"x":-21.58,"y":52.8,"t":"Цвет B"},{"x":-21.94,"y":50.1,"t":"2п.вм."},{"x":-21.94,"y":47.58,"t":"SKPO"}]},"mark":{"type":"text","font":"Liberation Serif","fontSize":25,"align":"left","baseline":"middle","fill":"#222222"},"encoding":{"text":{"field":"t"}}},
{"data":{"values":[{"x":-21.94,"y":46.95},{"x":-22.27,"y":46.78},{"x":-22.61,"y":46.95},{"x":-22.94,"y":46.78},{"x":-23.28,"y":46.95},{"x":-23.61,"y":46.78},{"x":-23.95,"y":46.95},{"x":-24.28,"y":46.78},{"x":-24.62,"y":46.95},{"x":-24.95,"y":46.78},{"x":-25.29,"y":46.95}]},"mark":{"type":"line","color":"#dd3333","strokeWidth":1.2,"interpolate":"monotone"},"encoding":{"order":{"field":"x","sort":"descending"}}}
]}
